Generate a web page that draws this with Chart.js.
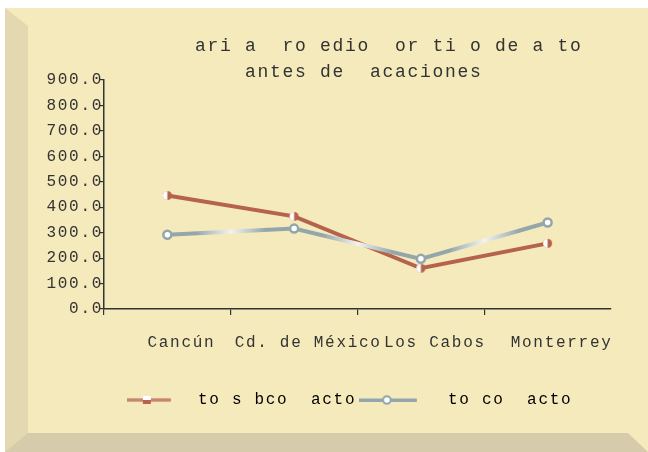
<!DOCTYPE html>
<html>
<head>
<meta charset="utf-8">
<script src="https://cdn.jsdelivr.net/npm/chart.js@4"></script>
<style>
  html, body { margin: 0; padding: 0; background: #fff; }
  #wrap { position: relative; width: 648px; height: 452px; overflow: hidden; }
  #frame {
    position: absolute; left: 5px; top: 8px; width: 643px; height: 444px;
    box-sizing: border-box; background: #F5EABB;
    border-style: solid; border-width: 18px 20px 19px 23px;
    border-color: #F5EABB #F5EABB #D6CCAB #E3D8B0;
  }
  canvas { position: absolute; left: 0; top: 0; }
</style>
</head>
<body>
<div id="wrap">
  <div id="frame"></div>
  <canvas id="chart" width="648" height="452"></canvas>
</div>
<script>
const categories = ["Cancún", "Cd. de México", "Los Cabos", "Monterrey"];
const seriesNames = ["to s bco  acto", "to co  acto"];
const redValues = [446, 364, 160, 258];
const blueValues = [292, 316, 197, 340];
const yTickValues = [0, 100, 200, 300, 400, 500, 600, 700, 800, 900];
const titleLines = ["     ari a  ro edio  or ti o de a to", " antes de  acaciones"];

const RED = "#B5634D";
const BLUE = "#93A6AC";
const TEXT = "#333333";
const FONT = "'Liberation Mono', 'DejaVu Sans Mono', monospace";

// red markers: left half white, right half red
function redMarker() {
  const c = document.createElement("canvas");
  c.width = 11; c.height = 11;
  const g = c.getContext("2d");
  g.beginPath(); g.arc(5.5, 5.5, 4.5, 0, Math.PI * 2); g.fillStyle = RED; g.fill();
  g.beginPath(); g.arc(5.5, 5.5, 4.5, Math.PI / 2, Math.PI * 1.5); g.fillStyle = "#fff"; g.fill();
  return c;
}

// legend symbols: a short line with the marker on it
function redLegend() {
  const c = document.createElement("canvas");
  c.width = 79; c.height = 12;
  const g = c.getContext("2d");
  g.fillStyle = RED; g.fillRect(0, 4.5, 44, 3);
  g.fillStyle = "#DDA898"; g.fillRect(0, 5.5, 44, 1);
  g.fillStyle = RED; g.fillRect(16, 2, 8, 8);
  g.fillStyle = "#fff"; g.fillRect(16, 2, 8, 4);
  return c;
}
function blueLegend() {
  const c = document.createElement("canvas");
  c.width = 115; c.height = 12;
  const g = c.getContext("2d");
  g.fillStyle = BLUE; g.fillRect(0, 4.5, 58, 3.5);
  g.beginPath(); g.arc(28, 6, 3.8, 0, Math.PI * 2);
  g.fillStyle = "#fff"; g.fill();
  g.lineWidth = 2; g.strokeStyle = BLUE; g.stroke();
  return c;
}

// shiny highlight halfway between points of the grey line
function blueShine(ctx) {
  const chart = ctx.chart;
  const area = chart.chartArea;
  const x = chart.scales.x;
  if (!area || !x) return BLUE;
  const g = chart.ctx.createLinearGradient(area.left, 0, area.right, 0);
  const w = area.right - area.left;
  const pos = px => Math.min(1, Math.max(0, (px - area.left) / w));
  g.addColorStop(0, BLUE);
  for (let i = 0; i < categories.length - 1; i++) {
    const mid = (x.getPixelForValue(i) + x.getPixelForValue(i + 1)) / 2;
    g.addColorStop(pos(mid - 35), BLUE);
    g.addColorStop(pos(mid), "#F4F4EE");
    g.addColorStop(pos(mid + 35), BLUE);
  }
  g.addColorStop(1, BLUE);
  return g;
}

const spacing = {
  id: "spacing",
  beforeUpdate(chart) { chart.ctx.letterSpacing = "1.7px"; },
  beforeDraw(chart) { chart.ctx.letterSpacing = "1.7px"; }
};

Chart.defaults.font.family = FONT;
Chart.defaults.font.size = 16;
Chart.defaults.color = TEXT;

const legendIcons = [redLegend(), blueLegend()];

new Chart(document.getElementById("chart"), {
  type: "line",
  data: {
    labels: categories,
    datasets: [
      {
        label: seriesNames[0],
        data: redValues,
        borderColor: RED,
        borderWidth: 4,
        pointStyle: redMarker(),
        order: 1
      },
      {
        label: seriesNames[1],
        data: blueValues,
        borderColor: blueShine,
        borderWidth: 4,
        pointStyle: "circle",
        pointRadius: 4,
        pointBorderWidth: 2.5,
        pointBorderColor: BLUE,
        pointBackgroundColor: "#fff",
        order: 0
      }
    ]
  },
  options: {
    responsive: false,
    animation: false,
    devicePixelRatio: 1,
    events: [],
    layout: { padding: { left: 34.6, right: 37, top: 8, bottom: 34 } },
    plugins: {
      tooltip: { enabled: false },
      title: {
        display: true,
        fullSize: false,
        text: titleLines,
        color: TEXT,
        font: { size: 18, weight: "normal", lineHeight: "26px" },
        padding: { top: 25, bottom: -5 }
      },
      legend: {
        position: "bottom",
        fullSize: false,
        labels: {
          usePointStyle: true,
          pointStyleWidth: 47.3,
          padding: 36.5,
          color: TEXT,
          font: { size: 16 },
          generateLabels: () => seriesNames.map((name, i) => ({
            text: name,
            pointStyle: legendIcons[i],
            fillStyle: "transparent",
            strokeStyle: "transparent",
            lineWidth: 0,
            hidden: false,
            datasetIndex: i
          }))
        }
      }
    },
    scales: {
      x: {
        offset: true,
        grid: {
          offset: true, drawOnChartArea: false, drawTicks: true, tickLength: 6, lineWidth: 1.2,
          // no tick mark at the right end of the axis
          color: c => (c.type === "tick" ? TEXT : "transparent")
        },
        border: { color: TEXT, width: 1.5 },
        ticks: { padding: 18, labelOffset: 14, maxRotation: 0, autoSkip: false, color: TEXT },
        afterFit: axis => { axis.height = 46.5; }
      },
      y: {
        min: 0,
        max: 900,
        grid: { drawOnChartArea: false, drawTicks: true, tickLength: 5, color: TEXT, lineWidth: 1.2 },
        border: { color: TEXT, width: 1.5 },
        ticks: { padding: -4, color: TEXT, callback: v => Number(v).toFixed(1) },
        afterBuildTicks: axis => { axis.ticks = yTickValues.map(v => ({ value: v })); },
        afterFit: axis => { axis.width = 69.4; }
      }
    }
  },
  plugins: [spacing]
});
</script>
</body>
</html>
